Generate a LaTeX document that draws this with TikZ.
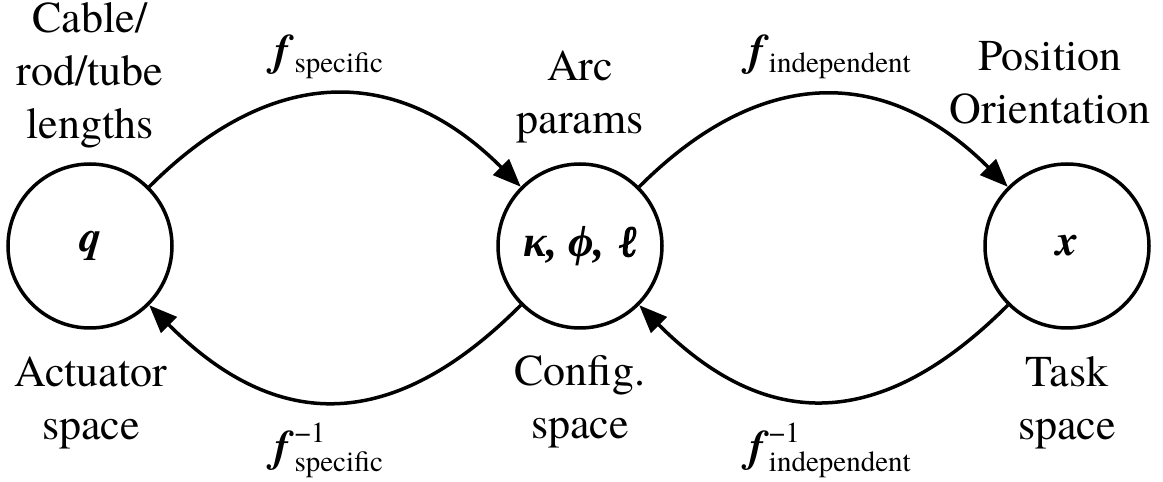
\documentclass[tikz,border=0pt]{standalone}
\usepackage{fontspec}
\setmainfont{texgyretermes}[Extension=.otf,UprightFont=*-regular,BoldFont=*-bold,
	ItalicFont=*-italic,BoldItalicFont=*-bolditalic]
\newfontfamily\greekfont{Liberation Serif}
\newfontfamily\ellfont{Liberation Serif}[FakeBold=2.5,FakeSlant=0.12]
\usetikzlibrary{arrows.meta}

\newcommand{\bolditalic}[1]{\textbf{\textit{#1}}}
\newcommand{\subfont}{\fontsize{29}{29}\selectfont}
\newcommand{\fmap}[1]{\bolditalic{f}\raisebox{-7pt}{\subfont #1}}
\newcommand{\finv}[1]{\bolditalic{f}\rlap{\raisebox{19pt}{\subfont −1}}\raisebox{-10pt}{\subfont #1}}

\begin{document}
\begin{tikzpicture}[x=1pt,y=1pt,
	font=\fontsize{44}{53}\selectfont,
	statespace/.style={draw,circle,line width=3.5pt,minimum size=164pt,inner sep=0pt},
	note/.style={align=center,inner sep=0pt,anchor=north},
	maplabel/.style={inner sep=0pt,anchor=base},
	map/.style={line width=3.5pt,-{Triangle[length=28pt,width=22pt]}}]

	\useasboundingbox (0,0) rectangle (1163,482);

	% the three spaces
	\node (Q) at (90,236) [statespace] {\bolditalic{q}};
	\node (K) at (580,236) [statespace] {{\greekfont\bolditalic{κ, ϕ,}} {\ellfont ℓ}};
	\node (X) at (1067,236) [statespace] {\bolditalic{x}};

	% labels above and below
	\node (QT) at (90,480) [note] {Cable/\\rod/tube\\lengths};
	\node (KT) at (580,431) [note] {Arc\\params};
	\node (XT) at (1050,441) [note] {Position\\Orientation};
	\node (QB) at (91,125) [note] {Actuator\\space};
	\node (KB) at (580,127) [note] {Config.\\space};
	\node (XB) at (1067,126) [note] {Task\\space};

	% mappings
	\node (FS) at (329,416) [maplabel] {\fmap{specific}};
	\node (FI) at (830,416) [maplabel] {\fmap{independent}};
	\node (FSI) at (329,20) [maplabel] {\finv{specific}};
	\node (FII) at (830,20) [maplabel] {\finv{independent}};

	\draw [map] (Q.45) to [out=45,in=135,looseness=1.2] (K.135);
	\draw [map] (K.-135) to [out=-135,in=-45,looseness=1.25] (Q.-45);
	\draw [map] (K.45) to [out=45,in=135,looseness=1.2] (X.135);
	\draw [map] (X.-135) to [out=-135,in=-45,looseness=1.25] (K.-45);

\end{tikzpicture}
\end{document}
